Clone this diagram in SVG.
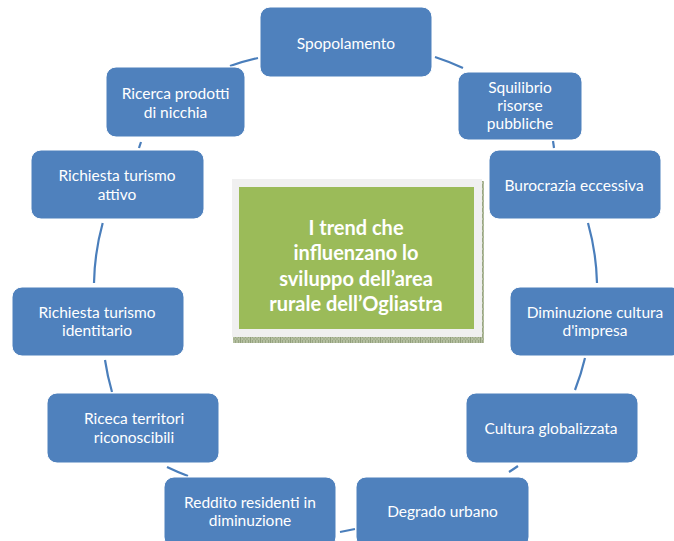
<svg xmlns="http://www.w3.org/2000/svg" width="674" height="541" viewBox="0 0 674 541">
<defs>
<style>
.node rect{fill:#4F81BD;stroke:#FFFFFF;stroke-width:1}
.node text{fill:#FFFFFF;font-family:Lato,"Liberation Sans",sans-serif;font-size:15.5px;text-anchor:middle}
.conn path{fill:none;stroke:#4A7EBB;stroke-width:2.2}
.title{fill:#FFFFFF;font-family:Lato,"Liberation Sans",sans-serif;font-size:20px;font-weight:bold;text-anchor:middle}
</style>
<pattern id="hatch" x="0" y="0" width="10" height="6" patternUnits="userSpaceOnUse">
<rect width="10" height="6" fill="#B4BFA0"/>
<path d="M0 0V6" stroke="#6F7E58" stroke-width="1"/>
<path d="M2 1h1M5 1h1M8 1h1M3.5 3h1M6.5 3h1M2 5h1M5 5h1M8 5h1" stroke="#7E8C66" stroke-width="1"/>
</pattern>
</defs>
<rect width="674" height="541" fill="#FFFFFF"/>
<g id="connectors" class="conn">
<path d="M435 57 A250 246 0 0 1 463 68"/>
<path d="M553 141 A250 246 0 0 1 554 148"/>
<path d="M588 223 A250 246 0 0 1 597 283"/>
<path d="M585 358 A250 246 0 0 1 575 390"/>
<path d="M518 466 A250 246 0 0 1 509 472"/>
<path d="M355 529 A250 246 0 0 1 340 532"/>
<path d="M188 476 A250 246 0 0 1 167 467"/>
<path d="M112 392 A250 246 0 0 1 105 360"/>
<path d="M94 283 A250 246 0 0 1 102.7 223"/>
<path d="M139 148 A250 246 0 0 1 141 142"/>
<path d="M230 66 A250 246 0 0 1 258 58"/>
</g>
<g id="center">
<rect x="233" y="337" width="251" height="6" fill="url(#hatch)"/>
<rect x="480" y="181" width="4" height="162" fill="url(#hatch)"/>
<rect x="232" y="179" width="250" height="158" fill="#F0F0F0"/>
<rect x="239" y="187" width="235" height="142" fill="#9BBB59"/>
<text class="title" x="356" y="234.5">I trend che</text>
<text class="title" x="356" y="260">influenzano lo</text>
<text class="title" x="356" y="285.5">sviluppo dell’area</text>
<text class="title" x="356" y="311">rurale dell’Ogliastra</text>
</g>
<g id="n1" class="node"><rect x="260" y="7" width="172" height="70" rx="10"/><text x="346" y="48.5">Spopolamento</text></g>
<g id="n2" class="node"><rect x="458" y="72" width="124" height="68" rx="10"/><text x="520" y="92.5">Squilibrio</text><text x="520" y="110.5">risorse</text><text x="520" y="128.5">pubbliche</text></g>
<g id="n3" class="node"><rect x="489" y="150" width="172" height="69" rx="10"/><text x="574" y="190.5">Burocrazia eccessiva</text></g>
<g id="n4" class="node"><rect x="510" y="287" width="172" height="69" rx="10"/><text x="595" y="317.5">Diminuzione cultura</text><text x="595" y="335.5">d'impresa</text></g>
<g id="n5" class="node"><rect x="466" y="393" width="172" height="70" rx="10"/><text x="551" y="433.5">Cultura globalizzata</text></g>
<g id="n6" class="node"><rect x="356" y="477" width="173" height="70" rx="10"/><text x="442.5" y="516.5">Degrado urbano</text></g>
<g id="n7" class="node"><rect x="164" y="477" width="172" height="70" rx="10"/><text x="250" y="507.5">Reddito residenti in</text><text x="250" y="525.5">diminuzione</text></g>
<g id="n8" class="node"><rect x="47" y="393" width="172" height="70" rx="10"/><text x="134" y="423.5">Riceca territori</text><text x="134" y="442.5">riconoscibili</text></g>
<g id="n9" class="node"><rect x="12" y="287" width="172" height="69" rx="10"/><text x="97" y="317.5">Richiesta turismo</text><text x="97" y="335.5">identitario</text></g>
<g id="n10" class="node"><rect x="31" y="150" width="173" height="69" rx="10"/><text x="117" y="180.5">Richiesta turismo</text><text x="117" y="199.5">attivo</text></g>
<g id="n11" class="node"><rect x="106" y="67" width="139" height="70" rx="10"/><text x="175.5" y="98.5">Ricerca prodotti</text><text x="175.5" y="117.5">di nicchia</text></g>
</svg>
